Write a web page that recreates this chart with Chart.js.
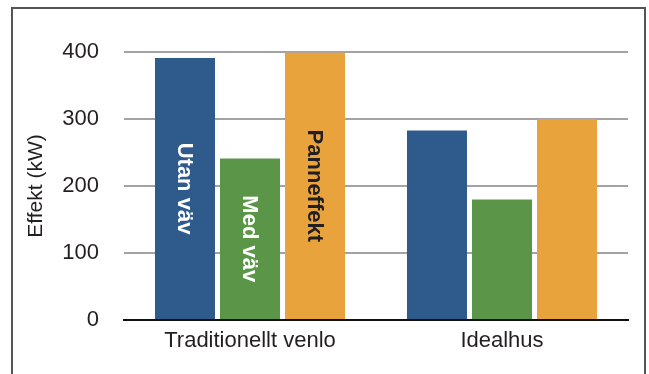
<!DOCTYPE html>
<html>
<head>
<meta charset="utf-8">
<style>
  html, body { margin: 0; padding: 0; background: #fff; }
  #wrap { position: relative; width: 649px; height: 374px; }
</style>
<script src="https://cdn.jsdelivr.net/npm/chart.js@4/dist/chart.umd.min.js"></script>
</head>
<body>
<div id="wrap"><canvas id="c" width="649" height="374"></canvas></div>
<script>
// Heating power per building type
const categories = ['Traditionellt venlo', 'Idealhus'];
const seriesNames = ['Utan väv', 'Med väv', 'Panneffekt'];
const utanVav = [391, 283];
const medVav = [241, 180];
const panneffekt = [399, 300];
const yTicks = [0, 100, 200, 300, 400];
const yTitle = 'Effekt (kW)';

const colors = ['#2e5a8c', '#5b9648', '#e8a33d'];
const barTextColors = ['#ffffff', '#ffffff', '#231f20'];
const FONT = '"Liberation Sans", Arial, Helvetica, sans-serif';
const TEXT = '#231f20';

// Outer frame around the figure
const framePlugin = {
  id: 'frame',
  beforeDraw(chart) {
    const ctx = chart.ctx;
    ctx.save();
    ctx.strokeStyle = '#555555';
    ctx.lineWidth = 2;
    ctx.beginPath();
    ctx.moveTo(12, 374);
    ctx.lineTo(12, 8);
    ctx.lineTo(645, 8);
    ctx.lineTo(645, 374);
    ctx.stroke();
    ctx.restore();
  }
};

// Series names written vertically inside the first group of bars
const barNamePlugin = {
  id: 'barNames',
  afterDatasetsDraw(chart) {
    const ctx = chart.ctx;
    ctx.save();
    ctx.font = 'bold 22px ' + FONT;
    ctx.textAlign = 'center';
    ctx.textBaseline = 'middle';
    chart.data.datasets.forEach((ds, i) => {
      const bar = chart.getDatasetMeta(i).data[0];
      const cy = (bar.y + bar.base) / 2;
      ctx.save();
      ctx.translate(bar.x, cy);
      ctx.rotate(Math.PI / 2);
      ctx.fillStyle = barTextColors[i];
      ctx.fillText(ds.label, 0, 1);
      ctx.restore();
    });
    ctx.restore();
  }
};

const seriesValues = [utanVav, medVav, panneffekt];

new Chart(document.getElementById('c'), {
  type: 'bar',
  data: {
    labels: categories,
    datasets: seriesNames.map((name, i) => ({
      label: name,
      data: seriesValues[i],
      backgroundColor: colors[i],
      borderWidth: 0,
      barPercentage: 0.923,
      categoryPercentage: 0.774
    }))
  },
  options: {
    responsive: false,
    animation: false,
    devicePixelRatio: 1,
    layout: { padding: { top: 52, right: 21, bottom: 0, left: 0 } },
    plugins: {
      legend: { display: false },
      tooltip: { enabled: false }
    },
    scales: {
      x: {
        grid: { display: false, drawTicks: false },
        border: { display: true, color: '#111111', width: 2 },
        ticks: {
          color: TEXT,
          padding: 8,
          font: { family: FONT, size: 22 }
        },
        afterFit(scale) { scale.height = 54; }
      },
      y: {
        min: 0,
        max: 400,
        afterBuildTicks(scale) { scale.ticks = yTicks.map(v => ({ value: v })); },
        grid: {
          drawTicks: false,
          lineWidth: 2,
          color: ctx => (ctx.tick && ctx.tick.value === 0) ? 'rgba(0,0,0,0)' : '#a3a3a3'
        },
        border: { display: false },
        ticks: {
          color: TEXT,
          padding: 25,
          font: { family: FONT, size: 22 }
        },
        title: {
          display: true,
          text: yTitle,
          color: TEXT,
          padding: { top: 24, bottom: 0 },
          font: { family: FONT, size: 21 }
        },
        afterFit(scale) { scale.width = 124; }
      }
    }
  },
  plugins: [framePlugin, barNamePlugin]
});
</script>
</body>
</html>
